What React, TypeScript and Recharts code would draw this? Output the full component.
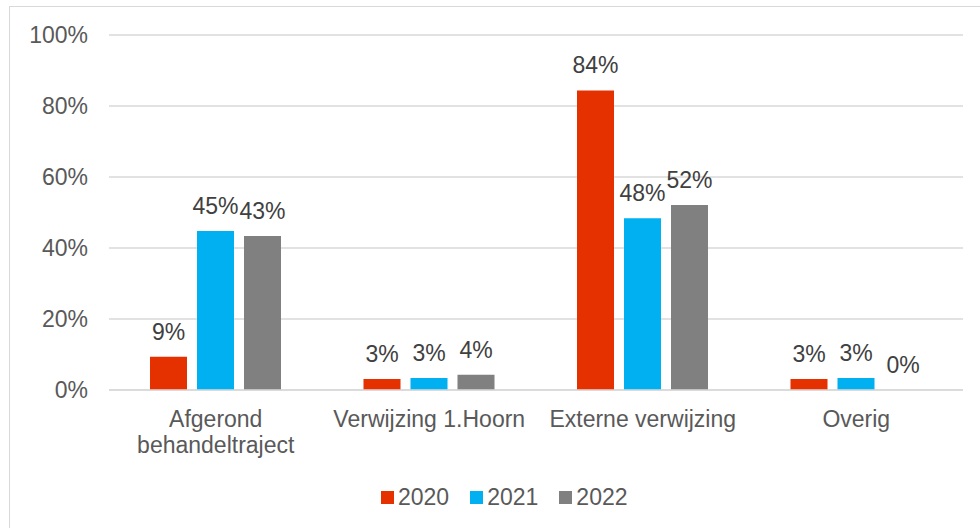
import { Bar, BarChart, CartesianGrid, LabelList, XAxis, YAxis } from 'recharts'

const categories = ['Afgerond behandeltraject', 'Verwijzing 1.Hoorn', 'Externe verwijzing', 'Overig']
const values2020 = [9.4, 3.1, 84.4, 3.1]
const values2021 = [44.8, 3.4, 48.4, 3.4]
const values2022 = [43.4, 4.3, 52.1, 0]
const yTicks = [0, 20, 40, 60, 80, 100]

const series = [
  { key: 'y2020', name: '2020', color: '#E53000' },
  { key: 'y2021', name: '2021', color: '#00B0F0' },
  { key: 'y2022', name: '2022', color: '#808080' },
]

const data = categories.map((category, index) => ({
  category,
  y2020: values2020[index],
  y2021: values2021[index],
  y2022: values2022[index],
}))

const FONT = '"Liberation Sans", Arial, sans-serif'

function CategoryTick({ x, y, payload }: any) {
  const label: string = payload.value
  let lines = [label]
  if (label.length > 20 && label.includes(' ')) {
    const cut = label.indexOf(' ')
    lines = [label.slice(0, cut), label.slice(cut + 1)]
  }
  return (
    <text x={x} y={y + 37} textAnchor="middle" fill="#595959" fontSize={23} fontFamily={FONT}>
      {lines.map((line, i) => (
        <tspan key={line} x={x} dy={i === 0 ? 0 : 26}>
          {line}
        </tspan>
      ))}
    </text>
  )
}

function ChartLegend() {
  return (
    <div
      style={{
        position: 'absolute',
        left: 381,
        top: 483,
        display: 'flex',
        fontFamily: FONT,
        fontSize: 23,
        lineHeight: '28px',
        color: '#595959',
      }}
    >
      {series.map((s) => (
        <div key={s.key} style={{ display: 'flex', alignItems: 'center', marginRight: 21 }}>
          <span style={{ width: 13, height: 13, background: s.color, marginRight: 4, display: 'inline-block' }} />
          <span>{s.name}</span>
        </div>
      ))}
    </div>
  )
}

export default function App() {
  return (
    <div style={{ position: 'absolute', left: 0, top: 0, width: 980, height: 528, overflow: 'hidden', background: '#fff' }}>
      <div
        style={{
          position: 'absolute',
          left: 9,
          top: 6,
          width: 1000,
          height: 600,
          border: '1px solid #d9d9d9',
        }}
      />
      <div style={{ position: 'absolute', left: 0, top: 0 }}>
        <BarChart
          width={980}
          height={528}
          data={data}
          margin={{ top: 35, right: 17, bottom: 0, left: 0 }}
          barSize={37}
          barGap={10}
        >
          <CartesianGrid vertical={false} stroke="#d9d9d9" strokeWidth={1.5} />
          <XAxis
            dataKey="category"
            axisLine={{ stroke: '#d9d9d9', strokeWidth: 1.5 }}
            tickLine={false}
            tickSize={0}
            tickMargin={0}
            interval={0}
            height={138}
            tick={<CategoryTick />}
          />
          <YAxis
            width={109}
            domain={[0, 100]}
            ticks={yTicks}
            axisLine={false}
            tickLine={false}
            tickSize={0}
            tickMargin={21}
            tickFormatter={(v: number) => `${v}%`}
            tick={{ fill: '#595959', fontSize: 23, fontFamily: FONT }}
          />
          {series.map((s) => (
            <Bar
              key={s.key}
              dataKey={s.key}
              name={s.name}
              fill={s.color}
              minPointSize={0.01}
              isAnimationActive={false}
            >
              <LabelList
                dataKey={s.key}
                position="top"
                offset={17}
                formatter={(v: any) => `${Math.round(Number(v))}%`}
                fill="#404040"
                fontSize={23}
                fontFamily={FONT}
              />
            </Bar>
          ))}
        </BarChart>
      </div>
      <ChartLegend />
    </div>
  )
}
